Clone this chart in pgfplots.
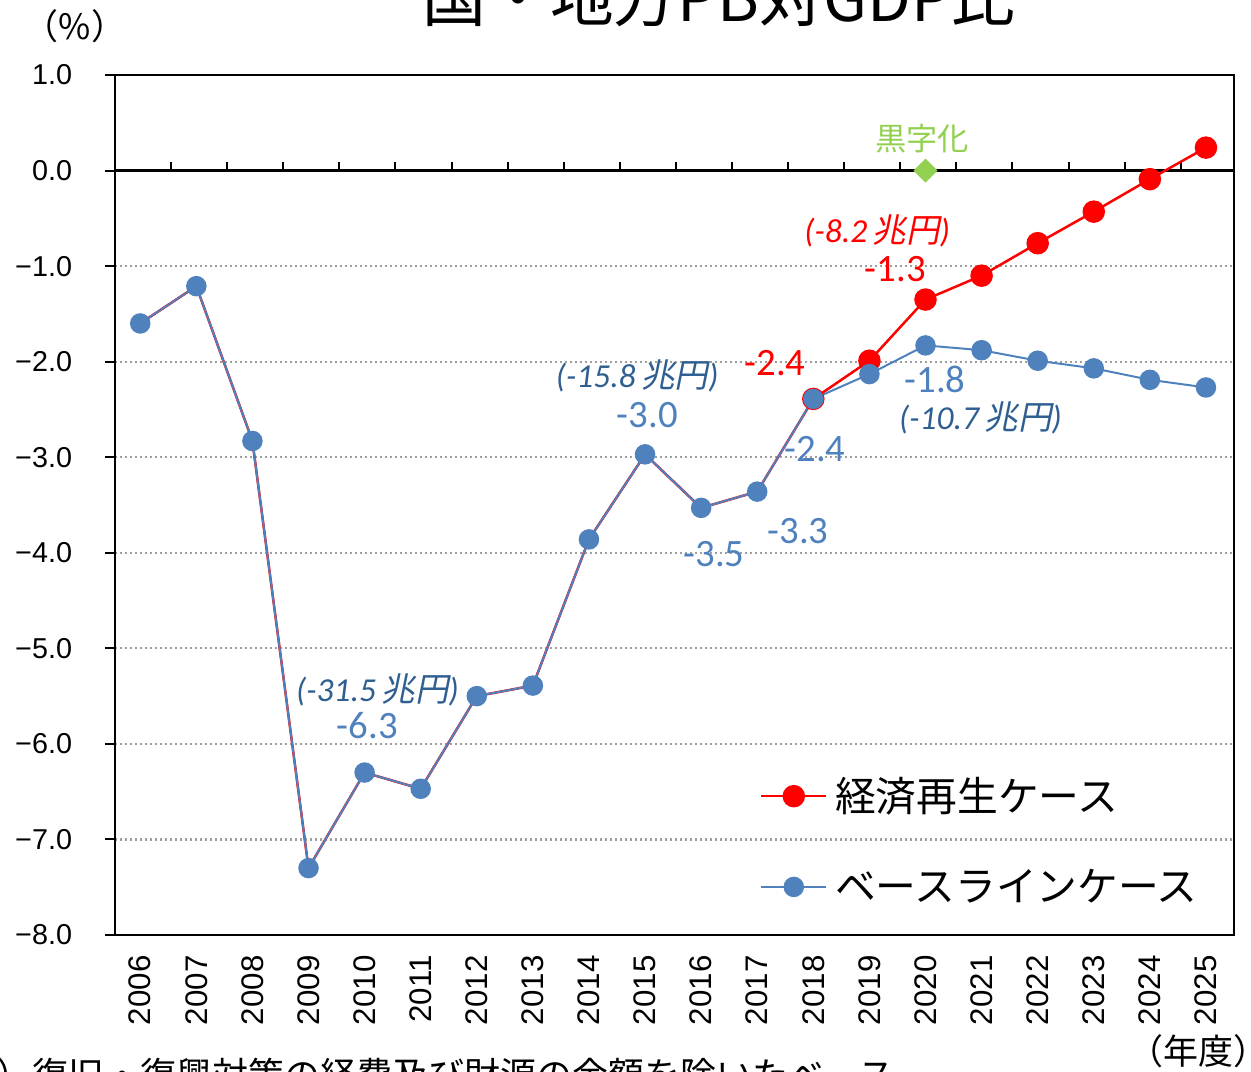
\documentclass[border=0pt]{standalone}
\usepackage{fontspec}
\usepackage{pgfplots}
\pgfplotsset{compat=1.18}
\setmainfont{Liberation Sans}
\newfontfamily\cjk{Noto Sans CJK JP}
\newfontfamily\cjkit[FakeSlant=0.2]{Noto Sans CJK JP}
\newfontfamily\carl{Carlito}
\definecolor{ser1}{HTML}{FF0000}
\definecolor{ser2}{HTML}{4F81BD}
\definecolor{lab2}{HTML}{2F5F91}
\definecolor{okgreen}{HTML}{92D050}
\newcommand{\trn}[1]{{\carl\itshape\fontsize{13.4}{15}\selectfont (#1\,{\cjkit 兆円})}}
\newcommand{\num}[1]{{\carl\fontsize{15.5}{17}\selectfont #1}}
\begin{document}
\begin{tikzpicture}
\useasboundingbox (0,0) rectangle (500.4pt,428.4pt);
\begin{axis}[
  at={(46pt,54.4pt)}, anchor=south west,
  scale only axis, width=447.6pt, height=344pt,
  xmin=-0.45, xmax=19.5, ymin=-8, ymax=1,
  xtick={0,1,2,3,4,5,6,7,8,9,10,11,12,13,14,15,16,17,18,19},
  xticklabels={2006,2007,2008,2009,2010,2011,2012,2013,2014,2015,2016,2017,2018,2019,2020,2021,2022,2023,2024,2025},
  ytick={-8,-7,-6,-5,-4,-3,-2,-1,0,1},
  yticklabels={−8.0,−7.0,−6.0,−5.0,−4.0,−3.0,−2.0,−1.0,0.0,1.0},
  xtick pos=bottom, ytick pos=left,
  tick align=outside, major tick length=4pt,
  x tick style={draw=none},
  y tick style={black, line width=0.8pt},
  xticklabel style={rotate=90, anchor=east, inner sep=0pt, font=\fontsize{12.5}{14}\selectfont},
  xticklabel shift=4pt,
  yticklabel style={inner sep=0pt, font=\fontsize{11.5}{13}\selectfont},
  yticklabel shift=13pt,
  axis line style={black, line width=0.9pt},
  ymajorgrids,
  major grid style={dash pattern=on 0.8pt off 1.2pt, line width=0.9pt, color=gray!75},
  extra y ticks={0}, extra y tick labels={},
  extra y tick style={grid=major, major grid style={solid, black, line width=1pt}},
  legend style={at={(0.576,0.187)}, anchor=north west, draw=none, fill=none,
    inner sep=0pt, nodes={inner sep=1pt}, row sep=19.5pt, column sep=2pt,
    font=\cjk\fontsize{16.3}{18}\selectfont},
  legend cell align=left,
  legend image code/.code={\draw[mark repeat=2,mark phase=2,#1] plot coordinates {(0pt,0pt) (13pt,0pt) (26pt,0pt)};},
  clip=false,
]
\pgfplotsinvokeforeach{0,...,18}{\draw[black, line width=0.8pt] (axis cs:#1+0.55,0) -- (axis cs:#1+0.55,0.09);}
% red line under the shared part
\addplot[color=ser1, line width=1pt, forget plot] coordinates {
(0,-1.60) (1,-1.21) (2,-2.83) (3,-7.30) (4,-6.30) (5,-6.47) (6,-5.50)
(7,-5.39) (8,-3.86) (9,-2.97) (10,-3.53) (11,-3.36) (12,-2.39)};
% 経済再生ケース
\addplot[color=ser1, line width=1pt, mark=*, mark size=4pt, mark options={fill=ser1, draw=none}] coordinates {
(12,-2.39) (13,-1.99) (14,-1.35) (15,-1.10) (16,-0.76) (17,-0.43) (18,-0.09) (19,0.24)};
\addlegendentry{経済再生ケース}
% ベースラインケース
\addplot[color=ser2, line width=0.8pt, mark=*, mark size=3.7pt, mark options={fill=ser2, draw=none}] coordinates {
(0,-1.60) (1,-1.21) (2,-2.83) (3,-7.30) (4,-6.30) (5,-6.47) (6,-5.50)
(7,-5.39) (8,-3.86) (9,-2.97) (10,-3.53) (11,-3.36) (12,-2.39) (13,-2.13)
(14,-1.83) (15,-1.88) (16,-1.99) (17,-2.07) (18,-2.19) (19,-2.27)};
\addlegendentry{ベースラインケース}
% 黒字化 marker
\addplot[only marks, mark=square*, mark size=3.2pt, color=okgreen, mark options={rotate=45}, forget plot] coordinates {(14,0)};
\node[text=okgreen, font=\cjk\fontsize{12.5}{14}\selectfont] at (axis cs:13.94,0.335) {黒字化};
% annotations
\node[text=ser1] at (axis cs:13.14,-0.63) {\trn{-8.2}};
\node[text=ser1] at (axis cs:13.46,-1.03) {\num{-1.3}};
\node[text=ser1] at (axis cs:11.32,-2.02) {\num{-2.4}};
\node[text=lab2] at (axis cs:8.86,-2.15) {\trn{-15.8}};
\node[text=ser2] at (axis cs:9.04,-2.56) {\num{-3.0}};
\node[text=ser2] at (axis cs:12.03,-2.92) {\num{-2.4}};
\node[text=ser2] at (axis cs:11.73,-3.77) {\num{-3.3}};
\node[text=ser2] at (axis cs:10.23,-4.01) {\num{-3.5}};
\node[text=ser2] at (axis cs:14.17,-2.19) {\num{-1.8}};
\node[text=lab2] at (axis cs:14.98,-2.59) {\trn{-10.7}};
\node[text=lab2] at (axis cs:4.23,-5.44) {\trn{-31.5}};
\node[text=ser2] at (axis cs:4.05,-5.81) {\num{-6.3}};
\end{axis}
% title, units, footnote
\node[anchor=base, inner sep=0pt, font=\cjk\fontsize{25.5}{27}\selectfont] at (287.6pt,419.6pt) {国・地方PB対GDP比};
\node[anchor=center, inner sep=0pt, font=\cjk\fontsize{14}{16}\selectfont] at (30pt,418pt) {（\%）};
\node[anchor=west, inner sep=0pt, font=\cjk\fontsize{14}{16}\selectfont] at (451pt,8pt) {（年度）};
\node[anchor=base west, inner sep=0pt, font=\cjk\fontsize{14.4}{16}\selectfont] at (-16pt,-6.8pt) {注）復旧・復興対策の経費及び財源の金額を除いたベース};
\end{tikzpicture}
\end{document}
